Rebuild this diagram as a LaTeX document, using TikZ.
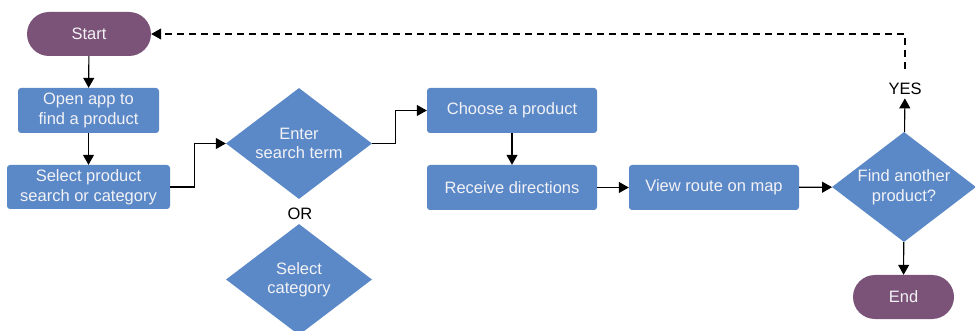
\documentclass[tikz,border=0pt]{standalone}
\usepackage{fontspec}
\setmainfont{Liberation Sans}
\usepackage{tikz}
\usetikzlibrary{shapes.geometric,arrows.meta}

\definecolor{flowblue}{RGB}{91,136,199}
\definecolor{flowplum}{RGB}{123,83,120}
\definecolor{flowtext}{RGB}{242,242,246}

\begin{document}
\begin{tikzpicture}[x=1pt,y=-1pt,
    every node/.style={font=\fontsize{16.5}{19.5}\selectfont},
    terminal/.style={fill=flowplum,text=flowtext,rounded corners=22pt,minimum height=44pt,inner sep=0pt},
    process/.style={fill=flowblue,text=flowtext,rounded corners=3pt,minimum height=45pt,inner sep=0pt,align=center},
    decision/.style={diamond,fill=flowblue,minimum width=146pt,minimum height=111pt,inner sep=0pt},
    dtext/.style={text=flowtext,align=center,font=\fontsize{16.5}{19.5}\selectfont},
    flow/.style={line width=1.1pt,-{Triangle[width=11pt,length=10pt]}}]
    \useasboundingbox (0,0) rectangle (975,331);
    \clip (0,0) rectangle (975,331);

    \node[terminal,minimum width=124pt] (start) at (89,34) {Start};
    \node[process,minimum width=141pt] (open) at (88.5,110.5) {Open app to\\find a product};
    \node[process,minimum width=163pt,minimum height=44pt] (select) at (88.5,187) {Select product\\search or category};

    \node[decision,label={[dtext]center:Enter\\search term}] (enter) at (299,143.5) {};
    \node (or) at (300,214) {OR};
    \node[decision,label={[dtext]center:Select\\category}] (category) at (299,279.5) {};

    \node[process,minimum width=170pt] (choose) at (512,110.5) {Choose a product};
    \node[process,minimum width=170pt] (receive) at (512,187.5) {Receive directions};
    \node[process,minimum width=170pt] (view) at (714,187.5) {View route on map};

    \node[decision,minimum width=144pt,minimum height=110pt,label={[dtext]center:Find another\\product?}] (find) at (904,187) {};
    \node (yes) at (905,89) {YES};
    \node[terminal,minimum width=101pt] (end) at (903.5,297) {End};

    \draw[flow] (start) -- (open);
    \draw[flow] (open) -- (select);
    \draw[flow] (select.east) -- ++(24,0) |- (enter.west);
    \draw[flow] (enter.east) -- ++(23,0) |- (choose.west);
    \draw[flow] (choose) -- (receive);
    \draw[flow] (receive) -- (view);
    \draw[flow] (view) -- (find);
    \draw[flow] (find) -- (yes);
    \draw[flow] (find) -- (end);

    % back to the start
    \draw[flow,dashed,dash pattern=on 7pt off 5pt,shorten <=11pt] (yes.north) |- (start.east);
\end{tikzpicture}
\end{document}
